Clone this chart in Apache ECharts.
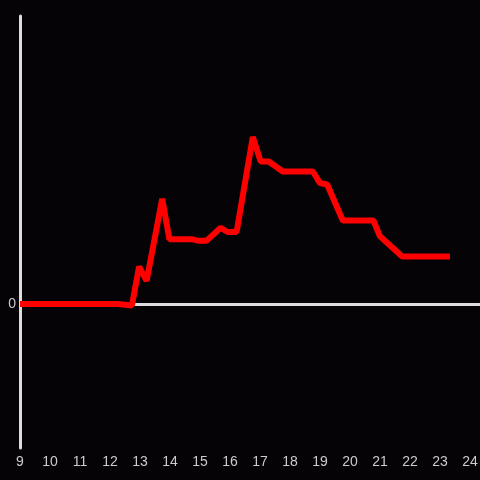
<!DOCTYPE html>
<html>
<head>
<meta charset="utf-8">
<script src="https://cdn.jsdelivr.net/npm/echarts@6/dist/echarts.min.js"></script>
<style>
  html, body { margin: 0; padding: 0; background: #050306; }
  #chart { width: 480px; height: 480px; }
</style>
</head>
<body>
<div id="chart"></div>
<script>
// heures (axe x) et valeurs
const hours = [9.0, 12.27, 12.73, 12.97, 13.22, 13.74, 13.98, 14.72, 14.93, 15.22, 15.69, 15.92,
  16.22, 16.76, 17.02, 17.29, 17.76, 18.76, 19.0, 19.24, 19.76, 20.78, 21.0, 21.74, 23.33];
const values = [0, 0, -1, 26, 16, 73, 45, 45, 44, 44, 53, 50,
  50, 116, 99, 99, 92, 92, 84, 83, 58, 58, 47, 33, 33];

const xMin = 9;
const xMax = 24.333;
const yMin = -100;
const yMax = 200;

const dom = document.getElementById('chart');
const myChart = echarts.init(dom);

myChart.setOption({
    backgroundColor: '#050306',
    animation: false,
    grid: { left: 20, right: 0, top: 16, bottom: 32, outerBoundsMode: 'none', containLabel: false },
    xAxis: {
        type: 'value',
        min: xMin,
        max: xMax,
        interval: 1,
        axisLine: { show: false },
        axisTick: { show: false },
        splitLine: { show: false },
        axisLabel: {
            color: '#cccccc',
            fontSize: 14,
            margin: 7,
            formatter: v => Number.isInteger(v) ? String(v) : ''
        }
    },
    yAxis: {
        type: 'value',
        min: yMin,
        max: yMax,
        interval: 100,
        axisLine: { show: true, onZero: false, lineStyle: { color: '#dddddd', width: 3 } },
        axisTick: { show: false },
        splitLine: { show: false },
        axisLabel: {
            color: '#cccccc',
            fontSize: 14,
            margin: 4,
            formatter: v => v === 0 ? '0' : ''
        }
    },
    series: [
        {
            type: 'line',
            data: hours.map((h, i) => [h, values[i]]),
            showSymbol: false,
            lineStyle: { color: '#ff0000', width: 6 },
            z: 3,
            markLine: {
                silent: true,
                symbol: 'none',
                label: { show: false },
                lineStyle: { color: '#dddddd', width: 3, type: 'solid' },
                data: [{ yAxis: 0 }],
                z: 2
            }
        }
    ]
});
</script>
</body>
</html>
